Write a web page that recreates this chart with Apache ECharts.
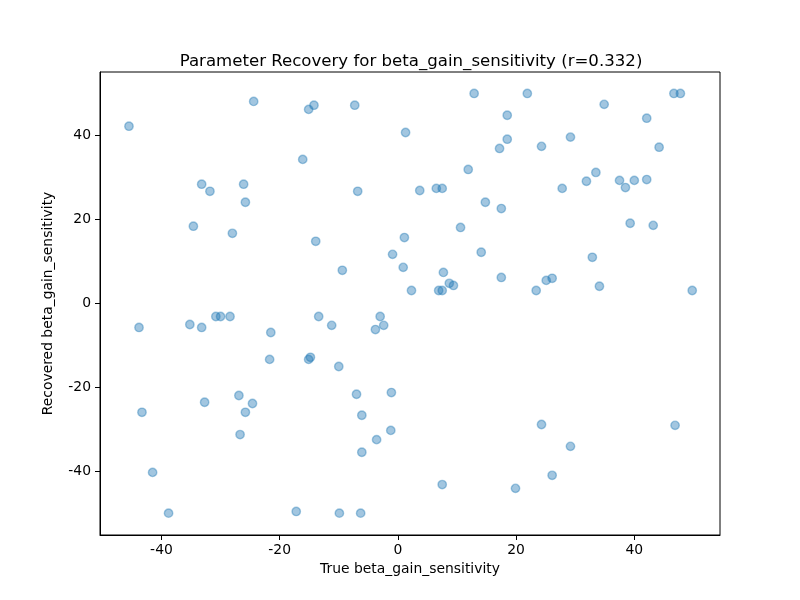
<!DOCTYPE html>
<html>
<head>
<meta charset="utf-8">
<script src="https://cdn.jsdelivr.net/npm/echarts@6/dist/echarts.min.js"></script>
<style>
  html, body { margin: 0; padding: 0; background: #fff; }
  #chart { width: 800px; height: 600px; }
</style>
</head>
<body>
<div id="chart"></div>
<script>
// true parameter values (x) and recovered values (y)
var trueVals = [
  -45.5, -24.4, -15.1, -14.2, -7.3, 1.3, -16.1, -33.2, -31.8, -26.1,
  -25.8, -6.8, -34.6, -28.0, -13.9, 1.1, -0.9, -9.4, 0.9, 12.9,
  21.9, 46.7, 47.8, 34.9, 18.5, 42.1, 18.5, 17.2, 24.3, 29.2,
  44.2, 11.9, 33.5, 31.9, 37.5, 40.0, 42.1, 38.5, 3.7, 6.5,
  7.5, 27.8, 14.8, 17.5, 10.6, 39.3, 43.2, 14.1, 32.9, 7.7,
  8.7, 9.4, 17.5, 25.1, 26.1, 34.1, 2.3, 6.9, 7.5, 23.4,
  49.8, -43.8, -35.2, -33.2, -30.8, -30.0, -28.4, -21.5, -13.4, -11.2,
  -3.0, -2.4, -3.8, -21.7, -15.1, -14.8, -10.0, -7.0, -1.1, -32.7,
  -26.9, -24.6, -25.8, -43.3, -6.1, -26.7, -1.2, -3.6, -6.1, -41.5,
  -38.8, -17.2, -9.9, -6.3, 24.3, 46.9, 29.2, 26.1, 7.5, 19.9
];
var recVals = [
  42.1, 48.0, 46.1, 47.1, 47.1, 40.6, 34.2, 28.3, 26.6, 28.3,
  24.0, 26.6, 18.3, 16.6, 14.7, 15.6, 11.6, 7.8, 8.5, 49.9,
  49.9, 49.9, 49.9, 47.3, 44.7, 44.0, 39.0, 36.8, 37.3, 39.5,
  37.1, 31.8, 31.1, 29.0, 29.2, 29.2, 29.4, 27.5, 26.8, 27.3,
  27.3, 27.3, 24.0, 22.5, 18.0, 19.0, 18.5, 12.1, 10.9, 7.3,
  4.7, 4.2, 6.1, 5.4, 5.9, 4.0, 3.0, 3.0, 3.0, 3.0,
  3.0, -5.8, -5.1, -5.8, -3.2, -3.2, -3.2, -7.0, -3.2, -5.3,
  -3.2, -5.3, -6.3, -13.4, -13.4, -12.9, -15.1, -21.7, -21.3, -23.6,
  -22.0, -23.9, -26.0, -26.0, -26.7, -31.3, -30.3, -32.5, -35.5, -40.3,
  -50.0, -49.6, -50.0, -50.0, -28.9, -29.1, -34.1, -41.0, -43.2, -44.1
];
var xTicks = [-40, -20, 0, 20, 40];
var yTicks = [-40, -20, 0, 20, 40];

var points = [];
for (var i = 0; i < trueVals.length; i++) {
  points.push([trueVals[i], recVals[i]]);
}

var font = 'DejaVu Sans';
var chart = echarts.init(document.getElementById('chart'), null, { renderer: 'canvas' });
var option = {
  animation: false,
  backgroundColor: '#fff',
  title: {
    text: 'Parameter Recovery for beta_gain_sensitivity (r=0.332)',
    left: 406,
    top: 48,
    textAlign: 'center',
    textStyle: { fontFamily: font, fontSize: 16.6, fontWeight: 'normal', color: '#000' }
  },
  grid: {
    left: 100, right: 80, top: 72, bottom: 65,
    show: true, borderColor: '#000', borderWidth: 1, backgroundColor: 'transparent'
  },
  xAxis: {
    type: 'value',
    min: -50.4, max: 54.5,
    name: 'True beta_gain_sensitivity',
    nameLocation: 'middle',
    nameGap: 27,
    nameTextStyle: { fontFamily: font, fontSize: 13.9, color: '#000' },
    splitLine: { show: false },
    axisLine: { show: true, onZero: false, lineStyle: { color: '#000', width: 1 } },
    axisTick: { show: true, length: 5, lineStyle: { color: '#000' }, customValues: xTicks },
    axisLabel: { fontFamily: font, fontSize: 13.9, color: '#000', margin: 8, customValues: xTicks }
  },
  yAxis: {
    type: 'value',
    min: -55.2, max: 55,
    name: 'Recovered beta_gain_sensitivity',
    nameLocation: 'middle',
    nameGap: 45,
    nameTextStyle: { fontFamily: font, fontSize: 13.9, color: '#000' },
    splitLine: { show: false },
    axisLine: { show: true, onZero: false, lineStyle: { color: '#000', width: 1 } },
    axisTick: { show: true, length: 5, lineStyle: { color: '#000' }, customValues: yTicks },
    axisLabel: { fontFamily: font, fontSize: 13.9, color: '#000', margin: 9, customValues: yTicks }
  },
  series: [
    {
      type: 'scatter',
      data: points,
      symbol: 'circle',
      symbolSize: 8.4,
      itemStyle: {
        color: 'rgba(31,119,180,0.52)',
        borderColor: 'rgba(31,119,180,0.5)',
        borderWidth: 1.4
      }
    }
  ]
};
chart.setOption(option);
</script>
</body>
</html>
